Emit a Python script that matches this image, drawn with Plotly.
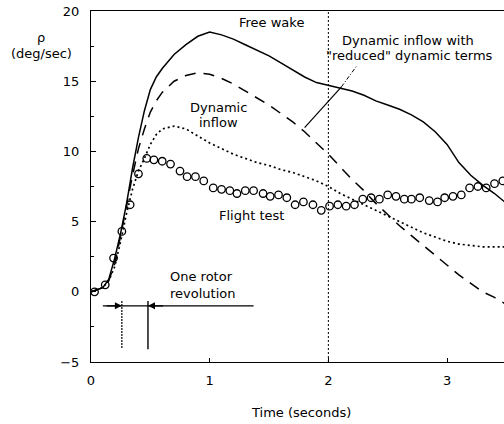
import plotly.graph_objects as go

# Time grid for the three model runs (seconds)
t_model = [0, 0.1, 0.15, 0.2, 0.25, 0.3, 0.35, 0.4, 0.45, 0.5, 0.55, 0.6,
           0.7, 0.8, 0.9, 1.0, 1.1, 1.2, 1.3, 1.4, 1.5, 1.6, 1.7, 1.8, 1.9,
           2.0, 2.1, 2.2, 2.3, 2.4, 2.5, 2.6, 2.7, 2.8, 2.9, 3.0, 3.1, 3.2,
           3.3, 3.4, 3.5]

# Roll rate p (deg/sec)
free_wake = [0, 0.3, 0.9, 2.4, 4.2, 6.3, 8.8, 11.0, 12.9, 14.4, 15.3, 15.9,
             16.9, 17.6, 18.2, 18.5, 18.3, 18.0, 17.6, 17.2, 16.8, 16.3, 15.8,
             15.3, 14.9, 14.7, 14.55, 14.3, 14.0, 13.6, 13.3, 13.0, 12.6, 12.1,
             11.4, 10.5, 9.2, 8.3, 7.6, 7.0, 6.3]
reduced_inflow = [0, 0.3, 0.8, 2.0, 4.0, 6.2, 8.3, 10.2, 11.6, 12.8, 13.6, 14.2,
                  15.0, 15.4, 15.6, 15.5, 15.2, 14.8, 14.3, 13.8, 13.3, 12.7,
                  12.1, 11.4, 10.6, 9.8, 8.9, 8.0, 7.2, 6.3, 5.5, 4.7, 4.0, 3.3,
                  2.6, 1.9, 1.2, 0.6, 0.0, -0.4, -0.9]
dynamic_inflow = [0, 0.3, 0.8, 1.8, 3.6, 5.6, 7.3, 8.6, 9.5, 10.5, 11.2, 11.6,
                  11.8, 11.6, 11.1, 10.6, 10.2, 9.8, 9.5, 9.2, 9.0, 8.7, 8.5,
                  8.2, 7.9, 7.5, 7.0, 6.6, 6.2, 5.8, 5.4, 5.0, 4.6, 4.2, 3.9,
                  3.6, 3.4, 3.3, 3.2, 3.2, 3.2]

# Flight test samples
t_flight = [0.03, 0.12, 0.19, 0.26, 0.33, 0.40, 0.47, 0.53, 0.60, 0.67, 0.75,
            0.81, 0.88, 0.95, 1.03, 1.10, 1.17, 1.23, 1.30, 1.37, 1.45, 1.51,
            1.58, 1.65, 1.72, 1.79, 1.87, 1.94, 2.01, 2.08, 2.15, 2.22, 2.29,
            2.36, 2.43, 2.50, 2.57, 2.64, 2.70, 2.77, 2.85, 2.92, 2.98, 3.05,
            3.12, 3.19, 3.26, 3.33, 3.40, 3.47]
p_flight = [0.0, 0.5, 2.4, 4.3, 6.2, 8.4, 9.5, 9.4, 9.3, 9.1, 8.6, 8.2, 8.2,
            7.9, 7.4, 7.3, 7.2, 7.0, 7.2, 7.2, 7.0, 6.8, 6.9, 6.7, 6.2, 6.4,
            6.2, 5.8, 6.1, 6.2, 6.1, 6.2, 6.6, 6.7, 6.6, 6.9, 6.8, 6.6, 6.6,
            6.7, 6.5, 6.4, 6.7, 6.8, 6.9, 7.4, 7.5, 7.4, 7.7, 7.9]

# One rotor revolution interval (seconds)
rev_start, rev_end = 0.26, 0.48

x_ticks = [0, 1, 2, 3]
y_ticks = [-5, 0, 5, 10, 15, 20]

FONT = "DejaVu Sans"
INK = "black"

fig = go.Figure()
fig.add_trace(go.Scatter(x=t_model, y=free_wake, mode="lines", name="Free wake",
                         line=dict(color=INK, width=1.5)))
fig.add_trace(go.Scatter(x=t_model, y=reduced_inflow, mode="lines",
                         name="Dynamic inflow with reduced dynamic terms",
                         line=dict(color=INK, width=1.5, dash="11px,8px")))
fig.add_trace(go.Scatter(x=t_model, y=dynamic_inflow, mode="lines",
                         name="Dynamic inflow",
                         line=dict(color=INK, width=1.7, dash="2px,3px")))
fig.add_trace(go.Scatter(x=t_flight, y=p_flight, mode="markers", name="Flight test",
                         marker=dict(symbol="circle-open", size=7.5,
                                     color=INK, line=dict(width=1.3))))

shapes = [
    # t = 2 s reference line
    dict(type="line", x0=2, x1=2, y0=-5, y1=20, xref="x", yref="y",
         line=dict(color=INK, width=1, dash="2px,2px")),
    # leader line to the reduced-terms curve
    dict(type="line", x0=1.80, y0=11.7, x1=2.11, y1=14.6, xref="x", yref="y",
         line=dict(color=INK, width=1.2)),
    dict(type="line", x0=2.11, y0=14.6, x1=2.24, y1=16.1, xref="x", yref="y",
         line=dict(color=INK, width=1, dash="4px,2px,1px,2px")),
    # rotor revolution bracket
    dict(type="line", x0=0.10, y0=-1.0, x1=1.37, y1=-1.0, xref="x", yref="y",
         line=dict(color=INK, width=1.4)),
    dict(type="line", x0=rev_start, y0=-0.65, x1=rev_start, y1=-4.05, xref="x", yref="y",
         line=dict(color=INK, width=1.2, dash="2px,1px")),
    dict(type="line", x0=rev_end, y0=-0.65, x1=rev_end, y1=-4.1, xref="x", yref="y",
         line=dict(color=INK, width=1.4)),
]

def label(text, x, y, anchor="center", **kw):
    return dict(text=text, x=x, y=y, xref=kw.pop("xref", "x"), yref=kw.pop("yref", "y"),
                xanchor=anchor, yanchor="middle", showarrow=False,
                font=dict(family=FONT, size=13, color=INK), **kw)

annotations = [
    label("Free wake", 1.525, 19.16),
    label("Dynamic inflow with", 2.67, 17.88),
    label("\"reduced\" dynamic terms", 2.68, 16.8),
    label("Dynamic", 1.076, 13.1),
    label("inflow", 1.076, 12.04),
    label("Flight test", 1.356, 5.41),
    label("One rotor", 0.65, 1.07, anchor="left"),
    label("revolution", 0.65, -0.14, anchor="left"),
    label("ρ", 0, 18.1, xref="paper", xshift=-50),
    label("(deg/sec)", 0, 17.0, xref="paper", xshift=-50),
    label("Time (seconds)", 1.77, 0, yref="paper", yshift=-50),
    # arrowheads of the revolution bracket
    dict(x=rev_start, y=-1.0, ax=0.12, ay=-1.0, xref="x", yref="y", axref="x", ayref="y",
         showarrow=True, arrowhead=2, arrowsize=1, arrowwidth=1.4, arrowcolor=INK,
         text=""),
    dict(x=rev_end, y=-1.0, ax=0.62, ay=-1.0, xref="x", yref="y", axref="x", ayref="y",
         showarrow=True, arrowhead=2, arrowsize=1, arrowwidth=1.4, arrowcolor=INK,
         text=""),
]

fig.update_layout(
    width=504, height=424,
    margin=dict(l=91, r=0, t=11, b=62),
    paper_bgcolor="white", plot_bgcolor="white",
    showlegend=False,
    font=dict(family=FONT, size=13, color=INK),
    shapes=shapes, annotations=annotations,
    xaxis=dict(range=[0, 3.48], tickvals=x_ticks, ticks="inside", ticklen=4,
               tickcolor=INK, showgrid=False, zeroline=False, showline=True,
               linecolor=INK, linewidth=1.2, mirror=True,
               tickfont=dict(family=FONT, size=13, color=INK), ticklabelstandoff=6),
    yaxis=dict(range=[-5, 20], tickvals=y_ticks, ticks="inside", ticklen=5,
               tickcolor=INK, showgrid=False, zeroline=False, showline=True,
               linecolor=INK, linewidth=1.2,
               minor=dict(dtick=2.5, ticks="inside", ticklen=3, tickcolor=INK),
               tickfont=dict(family=FONT, size=13, color=INK), ticklabelstandoff=8),
)

fig.write_html("out.html")
